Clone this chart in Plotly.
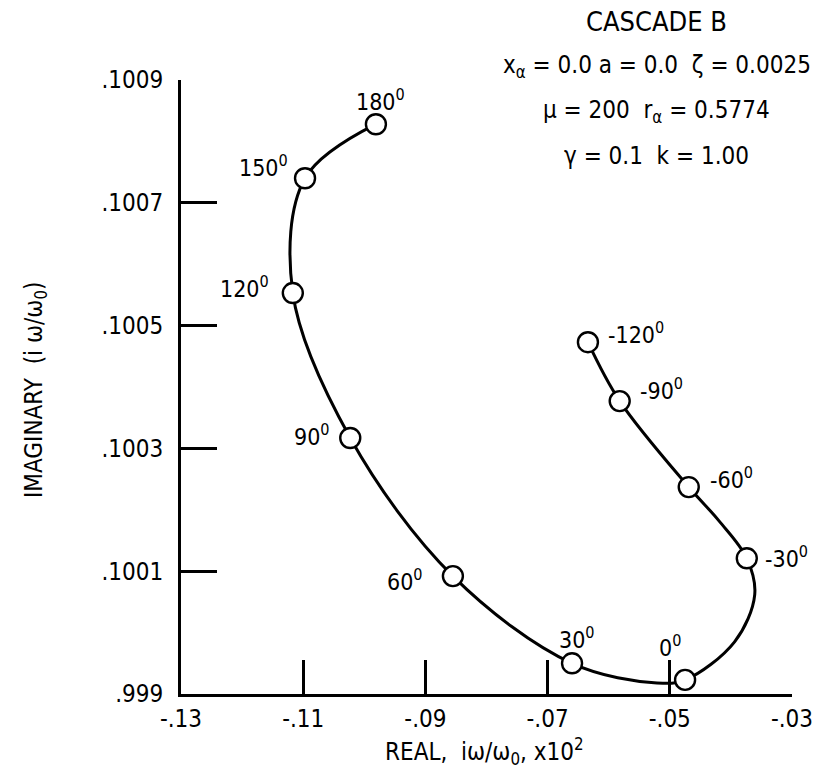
import plotly.graph_objects as go

# Data: labelled points (phase angle, real, imaginary)
angles = ["180", "150", "120", "90", "60", "30", "0", "-30", "-60", "-90", "-120"]
real_vals = [-0.0981, -0.1097, -0.1117, -0.1023, -0.0855, -0.0660, -0.0475, -0.0374, -0.0469, -0.0582, -0.0634]
imag_vals = [0.100828, 0.100740, 0.100553, 0.100317, 0.100092, 0.099950, 0.099923, 0.100121, 0.100237, 0.100377, 0.100473]

# Curve traced through the points, with a few extra points
curve_x = [-0.0981, -0.1097, -0.1117, -0.1023, -0.0855, -0.0660, -0.0521, -0.0475,
           -0.0394, -0.0361, -0.0374, -0.04195, -0.0469, -0.0582, -0.0634]
curve_y = [0.100828, 0.100740, 0.100553, 0.100317, 0.100092, 0.099950, 0.099918, 0.099923,
           0.099985, 0.100062, 0.100121, 0.100182, 0.100237, 0.100377, 0.100473]

x_tickvals = [-0.13, -0.11, -0.09, -0.07, -0.05, -0.03]
x_ticktext = ["-.13", "-.11", "-.09", "-.07", "-.05", "-.03"]
y_tickvals = [0.0999, 0.1001, 0.1003, 0.1005, 0.1007, 0.1009]
y_ticktext = [".999", ".1001", ".1003", ".1005", ".1007", ".1009"]

# label offsets in pixels (style only)
label_shift = {
    "180": (5, 24), "150": (-42, 12), "120": (-48, 6), "90": (-38, 3),
    "60": (-48, -4), "30": (5, 25), "0": (-15, 34), "-30": (40, 1),
    "-60": (43, 9), "-90": (42, 12), "-120": (48, 9),
}

FONT = "Liberation Sans Narrow, DejaVu Sans Condensed, Arial Narrow, Roboto, sans-serif"

fig = go.Figure()
fig.add_trace(go.Scatter(
    x=curve_x, y=curve_y, mode="lines",
    line=dict(color="black", width=3, shape="spline", smoothing=1.0),
    hoverinfo="skip", showlegend=False, cliponaxis=False,
))
fig.add_trace(go.Scatter(
    x=real_vals, y=imag_vals, mode="markers",
    marker=dict(size=20, color="white", line=dict(color="black", width=2.4)),
    showlegend=False, cliponaxis=False,
))

for a, xv, yv in zip(angles, real_vals, imag_vals):
    dx, dy = label_shift[a]
    fig.add_annotation(x=xv, y=yv, xref="x", yref="y", text=f"{a}<sup>0</sup>",
                       showarrow=False, xshift=dx, yshift=dy,
                       font=dict(family=FONT, size=23, color="black"))

title_lines = [
    ("CASCADE B", 1.0945, 27),
    ("x<sub>α</sub> = 0.0 a = 0.0  ζ = 0.0025", 1.0228, 24),
    ("μ = 200  r<sub>α</sub> = 0.5774", 0.9495, 24),
    ("γ = 0.1  k = 1.00", 0.8762, 24),
]
for txt, yy, sz in title_lines:
    fig.add_annotation(x=0.779, y=yy, xref="paper", yref="paper", text=txt,
                       showarrow=False, xanchor="center", yanchor="middle",
                       font=dict(family=FONT, size=sz, color="black"))

fig.add_annotation(x=0.4975, y=-0.094, xref="paper", yref="paper",
                   text="REAL,  iω/ω<sub>0</sub>, x10<sup>2</sup>", showarrow=False,
                   xanchor="center", yanchor="middle",
                   font=dict(family=FONT, size=24, color="black"))
fig.add_annotation(x=-0.239, y=0.495, xref="paper", yref="paper",
                   text="IMAGINARY  (i ω/ω<sub>0</sub>)", showarrow=False, textangle=-90,
                   xanchor="center", yanchor="middle",
                   font=dict(family=FONT, size=24, color="black"))

axis_common = dict(showgrid=False, zeroline=False, showline=True, linecolor="black",
                   linewidth=3, ticks="inside", tickwidth=2.5,
                   tickcolor="black", tickfont=dict(family=FONT, size=24, color="black"))
fig.update_xaxes(range=[-0.13, -0.03], tickvals=x_tickvals, ticktext=x_ticktext,
                 ticklen=34, ticklabelstandoff=1, **axis_common)
fig.update_yaxes(range=[0.0999, 0.1009], tickvals=y_tickvals, ticktext=y_ticktext,
                 ticklen=36, ticklabelstandoff=10, **axis_common)

fig.update_layout(width=829, height=775, margin=dict(l=181, r=37, t=80, b=81),
                  paper_bgcolor="white", plot_bgcolor="white")

fig.write_html("out.html")
